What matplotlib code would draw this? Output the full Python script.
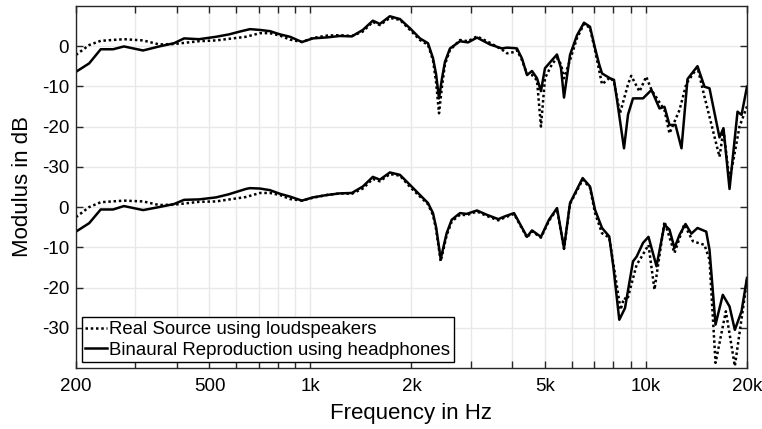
import matplotlib
matplotlib.use("Agg")
import matplotlib.pyplot as plt
from matplotlib.ticker import FixedLocator, NullFormatter

plt.rcParams['font.family'] = ['Liberation Sans', 'DejaVu Sans']

# ---------------- data ----------------
# upper pair (plotted as is)
us_f = [200, 219, 237, 258, 278, 317, 354, 392, 420, 465, 523, 572, 616, 660, 707, 757, 811, 869, 943,
        1016, 1120, 1224, 1328, 1432, 1534, 1610, 1724, 1848, 1980, 2120, 2240, 2318, 2368, 2416, 2466,
        2517, 2605, 2790, 2948, 3135, 3428, 3722, 3852, 4043, 4125, 4270, 4420, 4574, 4733, 4863, 5000,
        5245, 5430, 5581, 5697, 5937, 6230, 6536, 6809, 7047, 7250, 7395, 7811, 8028, 8197, 8599, 8841,
        9147, 9798, 10385, 10970, 11353, 11749, 12245, 12760, 13297, 14240, 14940, 15463, 16561, 17019,
        17743, 18743, 19266, 20000]
us_db = [-6.4, -4.3, -0.8, -0.8, -0.1, -1.1, -0.1, 0.7, 1.9, 1.7, 2.3, 2.9, 3.6, 4.2, 4.0, 3.7, 2.9, 2.3, 1.0,
         1.9, 2.15, 2.5, 2.4, 4.0, 6.3, 5.5, 7.4, 6.7, 4.4, 1.9, 0.7, -3.0, -7.0, -13.0, -8.0,
         -3.9, -0.6, 1.2, 0.9, 2.1, 0.4, -0.6, -0.4, -0.5, -0.6, -3.1, -7.2, -6.2, -8.0, -11.2, -5.5,
         -3.5, -2.1, -5.5, -12.8, -2.2, 2.7, 5.8, 4.8, -0.5, -4.5, -6.8, -8.0, -8.4, -13.4, -25.4, -17.0,
         -13.0, -13.0, -10.9, -15.5, -15.1, -19.6, -19.6, -25.4, -8.2, -5.0, -10.1, -10.5, -22.7, -20.4,
         -35.5, -16.3, -17.1, -10.1]

ud_f = [200, 219, 237, 278, 317, 354, 392, 465, 523, 642, 707, 757, 811, 869, 943, 1016, 1120, 1224,
        1328, 1432, 1534, 1610, 1724, 1848, 1980, 2120, 2240, 2318, 2368, 2416, 2466, 2517, 2605, 2790,
        2948, 3135, 3428, 3722, 3852, 4043, 4125, 4270, 4420, 4574, 4733, 4863, 5000, 5245, 5430, 5581,
        5697, 5937, 6230, 6536, 6809, 7047, 7250, 7395, 7811, 8028, 8366, 8841, 9035, 9564, 10015, 10385,
        10970, 11353, 11749, 12586, 13200, 14240, 14940, 16561, 17019, 17743, 19000, 20000]
ud_db = [-2.2, 0.25, 1.3, 1.7, 1.4, 0.4, 0.5, 1.2, 1.4, 2.3, 3.2, 3.2, 2.6, 1.6, 1.0, 2.0, 2.6, 2.7,
         2.5, 3.6, 6.0, 5.2, 7.0, 6.5, 4.0, 1.5, 0.3, -3.5, -9.0, -16.7, -10.0, -4.5, -1.0, 1.5,
         1.2, 2.4, 0.8, -0.9, -1.8, -1.5, -1.0, -3.5, -7.0, -7.2, -8.5, -20.0, -8.0, -4.5, -3.0, -4.5,
         -8.0, -3.5, 2.0, 5.5, 4.5, -1.0, -6.0, -9.5, -7.8, -8.9, -16.7, -9.5, -7.4, -11.3, -7.6, -10.9,
         -14.0, -15.9, -21.7, -15.9, -9.3, -5.3, -12.6, -27.5, -20.9, -33.5, -20.0, -15.0]

# lower pair (own dB scale, drawn 40 dB lower)
ls_f = [200, 219, 237, 258, 278, 317, 354, 392, 420, 465, 523, 572, 642, 660, 707, 757, 811, 869, 943,
        1016, 1120, 1224, 1328, 1432, 1534, 1610, 1724, 1848, 1980, 2120, 2240, 2318, 2368, 2444, 2546,
        2636, 2790, 2920, 3135, 3350, 3628, 3798, 4043, 4420, 4574, 4863, 5139, 5430, 5697, 5937, 6475,
        6809, 7050, 7395, 7770, 7990, 8325, 8658, 9147, 9380, 9798, 10173, 10747, 11353, 11749, 12160,
        12586, 13116, 13650, 14240, 15120, 15463, 16116, 16940, 17743, 18400, 19266, 20000]
ls_db = [-6.1, -4.0, -0.6, -0.6, 0.25, -0.75, 0.0, 0.75, 1.8, 1.9, 2.4, 3.2, 4.5, 4.7, 4.6, 4.2, 3.3, 2.6, 1.6,
         2.4, 3.0, 3.4, 3.5, 5.1, 7.5, 6.8, 8.6, 8.0, 5.5, 3.0, 1.0, -1.5, -5.0, -12.9, -6.5,
         -3.15, -1.5, -1.7, -0.85, -1.9, -3.0, -2.3, -1.5, -7.4, -5.8, -7.4, -3.15, -0.25, -10.2, 1.0, 7.2,
         5.1, -0.7, -5.2, -7.3, -14.7, -28.0, -25.1, -13.5, -12.3, -8.9, -7.4, -14.7, -4.4, -5.6, -10.2,
         -6.9, -4.2, -6.6, -5.2, -6.1, -10.6, -29.2, -21.8, -24.7, -30.5, -25.9, -17.6]

ld_f = [200, 219, 237, 278, 317, 354, 392, 465, 523, 642, 707, 757, 811, 869, 943, 1016, 1120, 1224,
        1328, 1432, 1534, 1610, 1724, 1848, 1980, 2120, 2240, 2318, 2368, 2444, 2546, 2636, 2790, 2920,
        3135, 3350, 3628, 3798, 4043, 4420, 4574, 4863, 5139, 5430, 5697, 5937, 6475, 6809, 7050, 7395,
        7770, 7990, 8400, 8599, 8800, 9380, 9600, 10173, 10600, 11353, 12160, 13000, 13800, 14940, 15463,
        16116, 17300, 18400, 19500, 20000]
ld_db = [-2.5, 0.0, 1.2, 1.6, 1.4, 0.5, 0.6, 1.3, 1.4, 2.5, 3.5, 3.5, 3.0, 2.0, 1.6, 2.3, 3.0, 3.4,
         3.3, 4.6, 7.0, 6.4, 8.2, 7.8, 5.0, 2.6, 0.7, -2.0, -5.5, -13.5, -7.0, -3.6, -1.9, -2.0,
         -1.1, -2.2, -3.3, -2.6, -1.7, -7.6, -6.0, -7.6, -3.4, -0.5, -10.4, 0.8, 6.8, 4.8, -1.5, -6.5,
         -7.6, -14.0, -25.5, -22.6, -23.0, -14.3, -13.0, -9.4, -20.5, -3.6, -11.4, -4.3, -8.5, -9.4, -13.1,
         -38.7, -25.9, -39.5, -24.7, -18.0]

lower_offset = -40

x_major = [200, 500, 1000, 2000, 5000, 10000, 20000]
x_labels = ["200", "500", "1k", "2k", "5k", "10k", "20k"]
x_minor = [300, 400, 600, 700, 800, 900, 3000, 4000, 6000, 7000, 8000, 9000]
y_ticks = [0, -10, -20, -30, -40, -50, -60, -70]
y_labels = ["0", "-10", "-20", "-30", "0", "-10", "-20", "-30"]

legend_labels = ["Real Source using loudspeakers", "Binaural Reproduction using headphones"]

# ---------------- figure ----------------
fig = plt.figure(figsize=(7.62, 4.29), dpi=100)
ax = fig.add_axes([0.0997, 0.142, 0.8806, 0.8445])

lw = 1.8
dot = (0, (1, 1.1))
l1, = ax.plot(ud_f, ud_db, color='black', lw=lw, linestyle=dot)
ax.plot(ld_f, [v + lower_offset for v in ld_db], color='black', lw=lw, linestyle=dot)
l2, = ax.plot(us_f, us_db, color='black', lw=lw, linestyle='-')
ax.plot(ls_f, [v + lower_offset for v in ls_db], color='black', lw=lw, linestyle='-')

ax.set_xscale('log')
ax.set_xlim(200, 20000)
ax.set_ylim(-80, 10)

ax.xaxis.set_major_locator(FixedLocator(x_major))
ax.set_xticklabels(x_labels)
ax.xaxis.set_minor_locator(FixedLocator(x_minor))
ax.xaxis.set_minor_formatter(NullFormatter())
ax.set_yticks(y_ticks)
ax.set_yticklabels(y_labels)

ax.tick_params(axis='both', which='both', direction='in', top=True, right=True,
               length=5, width=1, colors='#262626', labelcolor='black', labelsize=13.5)
ax.tick_params(axis='x', which='major', pad=7)
ax.tick_params(axis='y', which='major', pad=5)

ax.grid(True, which='major', color='#e8e8e8', lw=1)
ax.grid(True, which='minor', axis='x', color='#e8e8e8', lw=1)
ax.set_axisbelow(True)

for s in ax.spines.values():
    s.set_color('#262626')
    s.set_linewidth(1)

ax.set_xlabel("Frequency in Hz", fontsize=16, labelpad=6)
ax.set_ylabel("Modulus in dB", fontsize=16, labelpad=6)

leg = ax.legend([l1, l2], legend_labels, loc='lower left', fontsize=13.4,
                frameon=True, fancybox=False, framealpha=1, edgecolor='black',
                handlelength=1.15, handletextpad=0.15, labelspacing=0.2,
                borderpad=0.2, borderaxespad=0.3)
leg.get_frame().set_linewidth(1)

fig.savefig("out.png", dpi=100)
